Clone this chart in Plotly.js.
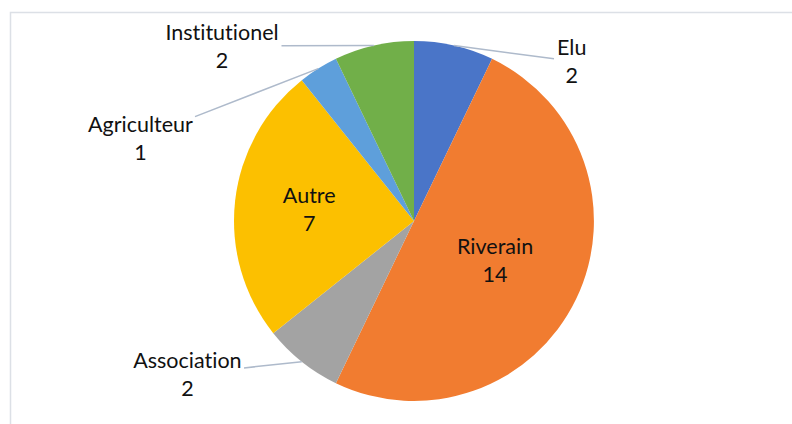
<!DOCTYPE html>
<html>
<head>
<meta charset="utf-8">
<script src="https://cdn.plot.ly/plotly-3.0.1.min.js"></script>
<style>
html,body{margin:0;padding:0;background:#fff;}
#chart{width:792px;height:424px;}
#chart svg text{font-variant-ligatures:none;font-feature-settings:"liga" 0;}
</style>
</head>
<body>
<div id="chart"></div>
<script>
// Data
const categories = ["Elu", "Riverain", "Association", "Autre", "Agriculteur", "Institutionel"];
const counts = [2, 14, 2, 7, 1, 2];
const sliceColors = ["#4A75C8", "#F17C30", "#A3A3A3", "#FCC000", "#5E9FDB", "#71AF49"];

// Layout geometry (pixels)
const W = 792, H = 424;
const CX = 414, CY = 221, R = 180;
const FONT = "Lato, 'Open Sans', sans-serif";
const FS = 21.5;

// which labels sit inside the slice, and where outside labels are placed (pixel centres)
const insideLabel = [false, true, false, true, false, false];
const outsideLabelPos = {
  "Elu": [571, 61],
  "Association": [187, 374],
  "Agriculteur": [140, 138],
  "Institutionel": [222, 46]
};

const total = counts.reduce((a, b) => a + b, 0);
const annotations = [];
let cum = 0;
counts.forEach((v, i) => {
  const mid = (cum + v / 2) / total * 2 * Math.PI;
  cum += v;
  const name = categories[i];
  if (insideLabel[i]) return;
  const tx = CX + R * Math.sin(mid);
  const ty = CY - R * Math.cos(mid);
  const [lx, ly] = outsideLabelPos[name];
  annotations.push({
    xref: "paper", yref: "paper",
    x: tx / W, y: 1 - ty / H,
    ax: lx - tx, ay: ly - ty,
    text: name + "<br>" + v,
    showarrow: true, arrowhead: 0, arrowwidth: 1.5, arrowcolor: "#AEBACB",
    standoff: 0, startstandoff: 0,
    font: {family: FONT, size: FS, color: "#111111"},
    align: "center", borderpad: 2
  });
});

const trace = {
  type: "pie",
  labels: categories,
  values: counts,
  sort: false,
  direction: "clockwise",
  rotation: 0,
  marker: {colors: sliceColors, line: {width: 0}},
  texttemplate: "%{label}<br>%{value}",
  textposition: insideLabel.map(b => b ? "inside" : "none"),
  insidetextorientation: "horizontal",
  textfont: {family: FONT, size: FS, color: "#111111"},
  hoverinfo: "label+value",
  domain: {x: [(CX - R) / W, (CX + R) / W], y: [1 - (CY + R) / H, 1 - (CY - R) / H]}
};

const layout = {
  width: W, height: H,
  margin: {l: 0, r: 0, t: 0, b: 0},
  paper_bgcolor: "#ffffff",
  showlegend: false,
  annotations: annotations,
  shapes: [{
    type: "rect", xref: "paper", yref: "paper",
    x0: 10.5 / W, x1: 1.02, y0: -0.02, y1: 1 - 12.5 / H,
    line: {color: "#DCE0E6", width: 1.5}, fillcolor: "rgba(0,0,0,0)", layer: "below"
  }]
};

Plotly.newPlot("chart", [trace], layout, {displayModeBar: false, staticPlot: true});
</script>
</body>
</html>
